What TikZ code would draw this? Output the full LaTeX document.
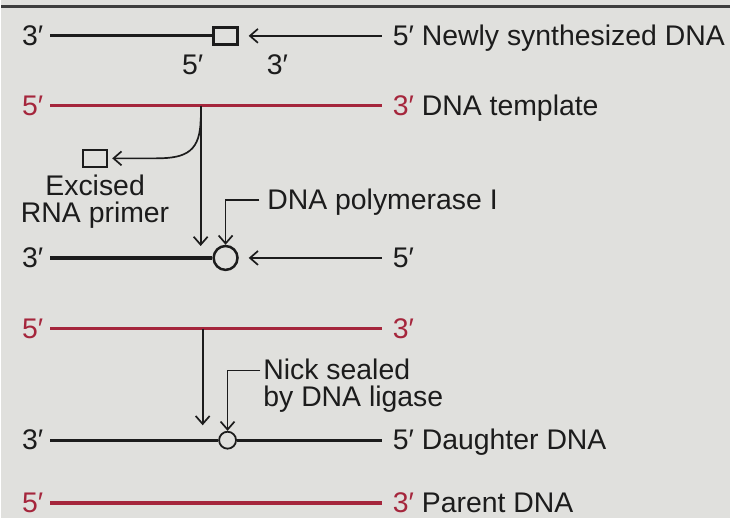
\documentclass[tikz,border=0pt]{standalone}
\usepackage{fontspec}
\setmainfont{Liberation Sans}
\usetikzlibrary{arrows.meta}
\definecolor{tmplred}{RGB}{165,38,60}
\definecolor{paper}{RGB}{224,224,221}
\definecolor{ink}{RGB}{28,28,28}
\begin{document}
\begin{tikzpicture}[x=1pt, y=-1pt, >={Straight Barb[length=8pt, width=14pt]},
	lbl/.style={text=ink, font=\fontsize{28.5}{30}\selectfont, inner xsep=2pt,
		inner ysep=0pt, text height=19pt, text depth=0pt},
	lft/.style={lbl, anchor=east, outer xsep=5pt},
	rgt/.style={lbl, anchor=west, outer xsep=9pt},
	strand/.style={ink, line width=3.2pt},
	tmpl/.style={tmplred, line width=3.5pt},
	ptr/.style={->, ink, line width=1.7pt},
	primer/.style={draw=ink, line width=2.4pt, minimum width=24pt,
		minimum height=17pt, inner sep=0pt}]
	\fill[paper] (0,0) rectangle (731,520);
	\draw[ink!85, line width=3pt] (0,7) -- (731,7);
	% newly synthesized strand, RNA primer still on it
	\node[lft] (a3) at (49,36) {3′};
	\node[primer] (pr) at (225,36) {};
	\node[rgt] (a5) at (382,36) {5′ Newly synthesized DNA};
	\node[lbl] (pr5) at (192,65) {5′};
	\node[lbl] (pr3) at (277,65) {3′};
	\draw[strand] (a3) -- (pr);
	\draw[ptr, shorten >=10pt] (a5) -- (pr);
	% template
	\node[lft, text=tmplred] (b5) at (49,106) {5′};
	\node[rgt] (b3) at (382,106) {\textcolor{tmplred}{3′} DNA template};
	\draw[tmpl] (b5) -- (b3);
	% excision of the primer
	\coordinate (top1) at (200,106);
	\coordinate (fork) at (200,118);
	\coordinate (bot1) at (200,247);
	\node[primer] (xpr) at (94,159) {};
	\node[lbl] (exc) at (94,187) {Excised};
	\node[lbl] (rna) at (94,214) {RNA primer};
	\draw[ptr] (top1) -- (bot1);
	\draw[ptr, shorten >=4pt] (fork) .. controls (200,152) and (186,159) .. (155,159) -- (xpr);
	% gap filled by DNA polymerase I
	\node[lft] (c3) at (49,259) {3′};
	\node[circle, draw=ink, line width=2.5pt, minimum size=24pt, inner sep=0pt] (gap) at (225,259) {};
	\node[rgt] (c5) at (382,259) {5′};
	\node[lbl, anchor=west, outer xsep=6pt] (pol) at (259,201) {DNA polymerase I};
	\draw[strand] (c3) -- (gap);
	\draw[ptr, shorten >=10pt] (c5) -- (gap);
	\draw[ptr] (pol.west) -| (gap.north);
	% template again
	\node[lft, text=tmplred] (d5) at (49,330) {5′};
	\node[rgt, text=tmplred] (d3) at (382,330) {3′};
	\draw[tmpl] (d5) -- (d3);
	\coordinate (top2) at (202,330);
	\coordinate (bot2) at (202,427);
	\draw[ptr] (top2) -- (bot2);
	% nick sealed
	\node[lft] (e3) at (49,442) {3′};
	\node[circle, draw=ink, fill=paper, line width=1.8pt, minimum size=17pt, inner sep=0pt] (nick) at (227,442) {};
	\node[rgt] (e5) at (382,442) {5′ Daughter DNA};
	\node[lbl, anchor=west, outer xsep=1pt] (lig1) at (260,372) {Nick sealed};
	\node[lbl, anchor=west, outer xsep=1pt] (lig2) at (260,399) {by DNA ligase};
	\draw[strand] (e3) -- (nick) -- (e5);
	\draw[ptr] (lig1.west) -| (nick.north);
	% parent strand
	\node[lft, text=tmplred] (f5) at (49,505) {5′};
	\node[rgt] (f3) at (382,505) {\textcolor{tmplred}{3′} Parent DNA};
	\draw[tmpl] (f5) -- (f3);
\end{tikzpicture}
\end{document}
